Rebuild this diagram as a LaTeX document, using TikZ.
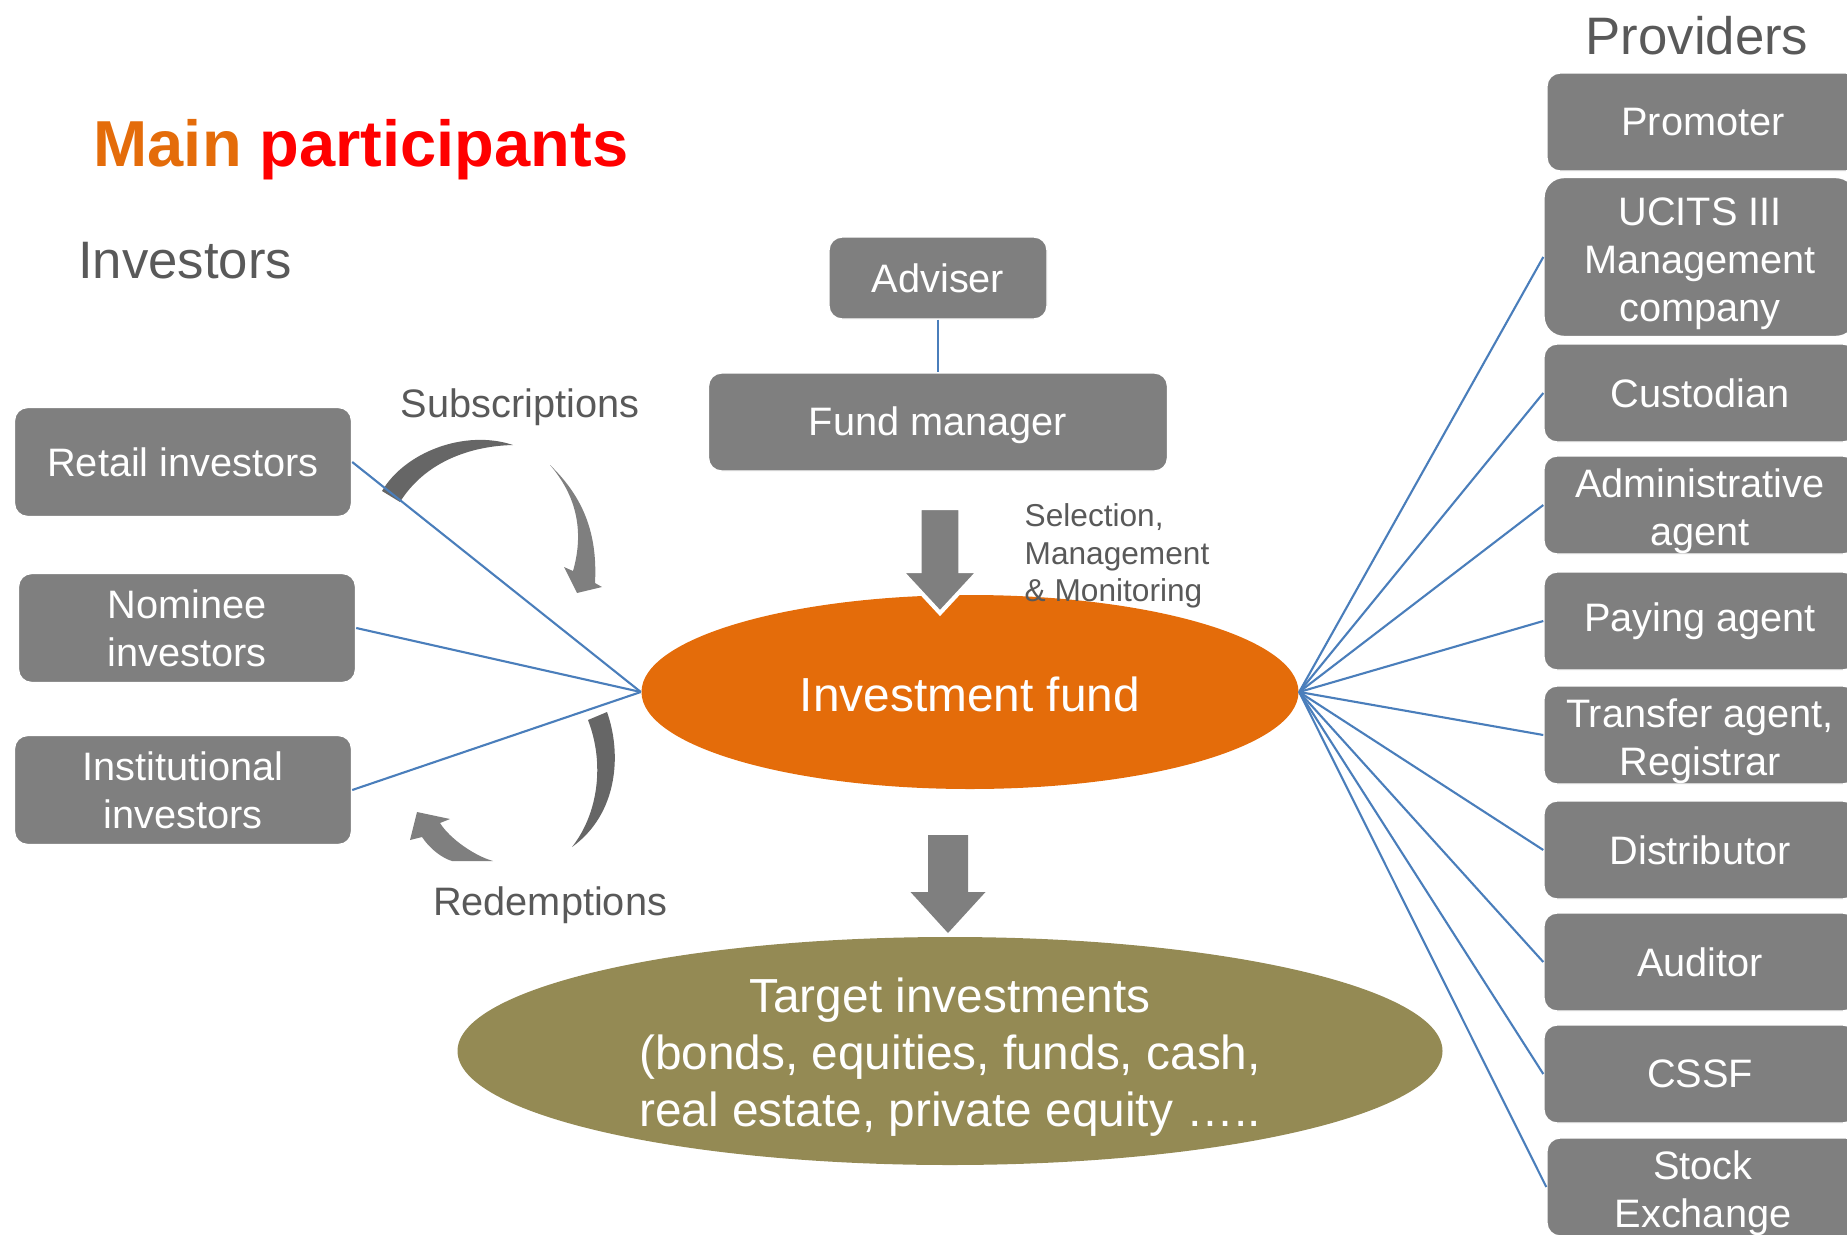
\documentclass[tikz,border=0pt]{standalone}
\usepackage{fontspec}
\setmainfont{Liberation Sans}
\usetikzlibrary{shapes.geometric}

\definecolor{boxgray}{HTML}{7F7F7F}
\definecolor{arcgray}{HTML}{666666}
\definecolor{labelgray}{HTML}{595959}
\definecolor{linkblue}{HTML}{4A7EBB}
\definecolor{fundorange}{HTML}{E46C0A}
\definecolor{targetolive}{HTML}{948A54}

\newcommand{\provtop}{\rule{0pt}{11.6pt}}

\begin{document}
\begin{tikzpicture}[
  gbox/.style={fill=boxgray, draw=white, line width=0.4pt, rounded corners=0.13cm,
    text=white, align=center, inner sep=0pt, minimum height=0.98cm,
    font=\fontsize{11.3}{13.6}\selectfont},
  invbox/.style={gbox, minimum width=3.37cm, minimum height=1.09cm},
  provbox/.style={gbox, minimum width=3.12cm},
  link/.style={linkblue, line width=0.6pt},
  hdr/.style={text=labelgray, anchor=base, font=\fontsize{15}{18}\selectfont},
  flowlabel/.style={text=labelgray, anchor=base, font=\fontsize{11.3}{13.6}\selectfont},
  bigtext/.style={text=white, align=center, font=\fontsize{13.6}{16.2}\selectfont},
]
\clip (0,0) rectangle (18.47,12.34);

% titles
\node[anchor=base] (title) at (3.61,10.68) {\fontsize{18.5}{22}\selectfont\bfseries
  \textcolor{fundorange}{Main} \textcolor{red}{participants}};
\node[hdr] (investors) at (1.85,9.56) {Investors};
\node[hdr] (providers) at (16.97,11.80) {Providers};

% investors
\node[invbox] (retail) at (1.83,7.72) {Retail investors};
\node[invbox] (nominee) at (1.87,6.06) {Nominee\\investors};
\node[invbox] (inst) at (1.83,4.44) {Institutional\\investors};

% management
\node[gbox, minimum width=2.18cm, minimum height=0.82cm] (adviser) at (9.38,9.56) {Adviser};
\node[gbox, minimum width=4.59cm] (fundmgr) at (9.38,8.12) {\rule{0pt}{10pt}Fund manager};

% fund and targets
\node[ellipse, fill=fundorange, minimum width=6.57cm, minimum height=1.94cm, inner sep=0pt] (fund) at (9.70,5.42) {};
\node[bigtext, yshift=-0.02cm] (fundtext) at (fund.center) {Investment fund};
\node[ellipse, fill=targetolive, minimum width=9.85cm, minimum height=2.28cm, inner sep=0pt] (target) at (9.50,1.83) {};
\node[bigtext, yshift=-0.06cm] (targettext) at (target.center) {Target investments\\(bonds, equities, funds, cash,\\real estate, private equity …..};

% block arrows
\filldraw[fill=boxgray, draw=white, line width=1.2pt] (9.195,7.26) -- (9.605,7.26) -- (9.605,6.63) -- (9.79,6.63)
  -- (9.40,6.21) -- (9.01,6.63) -- (9.195,6.63) -- cycle;
\fill[boxgray] (9.28,3.99) -- (9.68,3.99) -- (9.68,3.42) -- (9.855,3.42) -- (9.48,3.01) -- (9.105,3.42) -- (9.28,3.42) -- cycle;
\node[anchor=west, align=left, text=labelgray, inner sep=0pt, font=\fontsize{9}{10.6}\selectfont] (selection) at (10.24,6.78)
  {Selection,\\Management\\\& Monitoring};

% subscriptions
\fill[arcgray] (3.82,7.43) .. controls (4.05,7.82) and (4.65,8.05) .. (5.13,7.89)
  .. controls (4.70,7.88) and (4.25,7.72) .. (4.00,7.32) -- cycle;
\fill[boxgray] (5.50,7.69) .. controls (5.80,7.40) and (5.98,7.05) .. (5.95,6.51) -- (6.02,6.47) -- (5.77,6.41)
  -- (5.64,6.67) -- (5.73,6.63) .. controls (5.85,7.05) and (5.75,7.40) .. (5.50,7.69) -- cycle;
\node[flowlabel] (subs) at (5.20,8.17) {Subscriptions};

% redemptions
\fill[arcgray] (5.88,5.14) -- (6.07,5.22) .. controls (6.22,4.80) and (6.18,4.20) .. (5.72,3.87)
  .. controls (5.98,4.20) and (6.05,4.70) .. (5.88,5.14) -- cycle;
\fill[boxgray] (4.93,3.73) .. controls (4.75,3.78) and (4.50,3.95) .. (4.40,4.11) -- (4.50,4.15) -- (4.17,4.22)
  -- (4.10,3.94) -- (4.22,3.97) .. controls (4.30,3.85) and (4.42,3.76) .. (4.52,3.73) -- cycle;
\node[flowlabel] (redem) at (5.50,3.19) {Redemptions};

% providers
\node[provbox] (promoter) at (17.03,11.12) {Promoter};
\node[provbox, minimum height=1.59cm, rounded corners=0.2cm] (ucits) at (17.00,9.77) {\provtop UCITS III\\Management\\company};
\node[provbox] (custodian) at (17.00,8.41) {Custodian};
\node[provbox] (admin) at (17.00,7.29) {\provtop Administrative\\agent};
\node[provbox] (paying) at (17.00,6.13) {Paying agent};
\node[provbox] (transfer) at (17.00,4.99) {\provtop Transfer agent,\\Registrar};
\node[provbox] (distrib) at (17.00,3.84) {Distributor};
\node[provbox] (auditor) at (17.00,2.72) {Auditor};
\node[provbox] (cssf) at (17.00,1.60) {CSSF};
\node[provbox] (stock) at (17.03,0.47) {\provtop Stock\\Exchange};

% links
\draw[link] (adviser) -- (fundmgr);
\draw[link] (retail.east) -- (fund.west);
\draw[link] (nominee.east) -- (fund.west);
\draw[link] (inst.east) -- (fund.west);
\draw[link] (fund.east) -- (ucits.west);
\draw[link] (fund.east) -- (custodian.west);
\draw[link] (fund.east) -- (admin.west);
\draw[link] (fund.east) -- (paying.west);
\draw[link] (fund.east) -- (transfer.west);
\draw[link] (fund.east) -- (distrib.west);
\draw[link] (fund.east) -- (auditor.west);
\draw[link] (fund.east) -- (cssf.west);
\draw[link] (fund.east) -- (stock.west);
\end{tikzpicture}
\end{document}
